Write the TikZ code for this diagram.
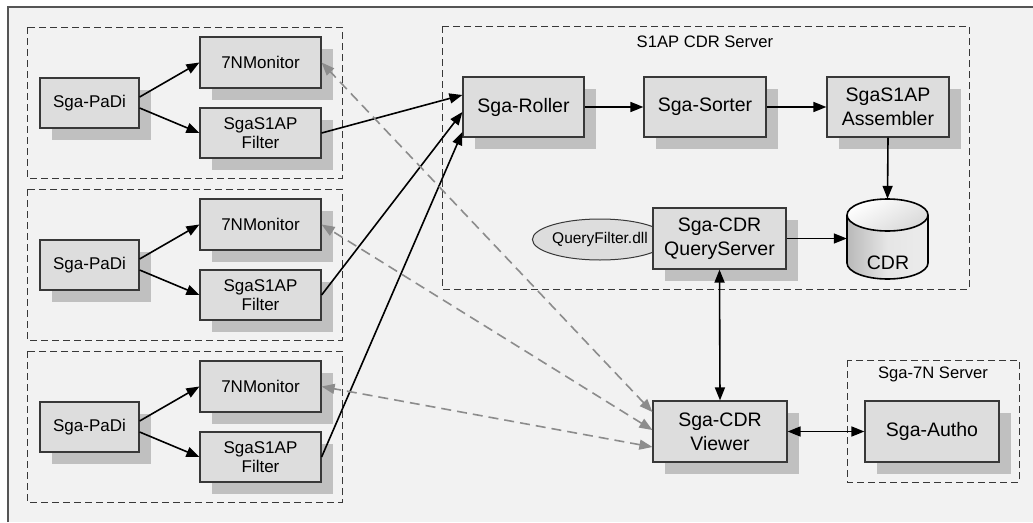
\documentclass[tikz,border=0pt]{standalone}
\usepackage{fontspec}
\setmainfont{Liberation Sans}
\usetikzlibrary{arrows.meta,shadows,shapes.geometric}
\definecolor{bgc}{HTML}{F2F2F2}
\definecolor{boxfill}{HTML}{DDDDDD}
\definecolor{shadowc}{HTML}{C0C0C0}
\definecolor{edgec}{HTML}{383838}
\definecolor{framec}{HTML}{555555}
\definecolor{dgray}{HTML}{8C8C8C}
\begin{document}
\begin{tikzpicture}[x=1pt,y=-1pt,
  box/.style={draw=edgec, line width=1.2pt, fill=boxfill, inner sep=0pt, align=center,
    drop shadow={shadow xshift=12pt, shadow yshift=-12pt, fill=shadowc, opacity=1}},
  smallbox/.style={box, font=\fontsize{17}{19}\selectfont, minimum width=121pt, minimum height=51pt},
  bigbox/.style={box, font=\fontsize{19.5}{24}\selectfont},
  grp/.style={draw=edgec, line width=1pt, dash pattern=on 7pt off 4pt},
  conn/.style={draw=black, line width=1.6pt, -{Triangle[length=13pt,width=10pt]}},
  bconn/.style={draw=black, line width=1.6pt, {Triangle[length=13pt,width=10pt]}-{Triangle[length=13pt,width=10pt]}},
  dconn/.style={draw=dgray, line width=1.6pt, dash pattern=on 10pt off 6pt,
    {Triangle[length=13pt,width=10pt]}-{Triangle[length=13pt,width=10pt]}},
  ttl/.style={font=\fontsize{16.6}{18}\selectfont, inner sep=0pt}
]
\useasboundingbox (0,0) rectangle (1033,522);
\fill[white] (0,0) rectangle (1033,522);
\fill[bgc] (8,7) rectangle (1033,522);
\draw[framec, line width=1.5pt] (8,522) -- (8,7) -- (1033,7);

% containers
\draw[grp] (442,26) rectangle (969,289);
\draw[grp] (847,360) rectangle (1019,482);
\foreach \dy in {0,162,324} {
  \draw[grp] (27,27+\dy) rectangle (342,178+\dy);
}
\node[ttl] (t1) at (705,42) {S1AP CDR Server};
\node[ttl] (t2) at (933,374) {Sga-7N Server};

% left groups
\foreach \k/\dy in {1/0,2/162,3/324} {
  \node[smallbox, minimum width=99pt, minimum height=50pt] (padi\k) at (89.5,103+\dy) {Sga-PaDi};
  \node[smallbox] (mon\k) at (260.5,62.5+\dy) {7NMonitor};
  \node[smallbox, minimum height=50pt] (filt\k) at (260.5,133+\dy) {SgaS1AP\\Filter};
  \draw[conn] ([yshift=6pt]padi\k.east) -- (mon\k.west);
  \draw[conn] ([yshift=-5pt]padi\k.east) -- (filt\k.west);
}

% server nodes
\node[bigbox, minimum width=121pt, minimum height=60pt] (roller) at (523.5,107) {Sga-Roller};
\node[bigbox, minimum width=122pt, minimum height=60pt] (sorter) at (705,107) {Sga-Sorter};
\node[bigbox, minimum width=122pt, minimum height=60pt] (asm) at (888,107) {SgaS1AP\\Assembler};
\node[draw=edgec, line width=1pt, fill=boxfill, ellipse, minimum width=114pt, minimum height=41pt, inner sep=0pt,
  font=\fontsize{15.5}{17}\selectfont] (qf) at (600,239.5) {QueryFilter.dll};
\node[bigbox, minimum width=133pt, minimum height=61pt] (qs) at (719.5,238.5) {Sga-CDR\\QueryServer};
\node[bigbox, minimum width=134pt, minimum height=61pt] (viewer) at (720,431.5) {Sga-CDR\\Viewer};
\node[bigbox, minimum width=134pt, minimum height=61pt] (autho) at (932,431.5) {Sga-Autho};

% cylinder
\shade[left color=gray!55, right color=gray!15, middle color=gray!20]
  (847,215) -- (847,263) arc[start angle=180, end angle=360, x radius=40.5pt, y radius=16pt] -- (928,215) -- cycle;
\shade[top color=white, bottom color=gray!30, shading angle=30]
  (887.5,215) ellipse [x radius=40.5pt, y radius=16pt];
\draw[black, line width=1.6pt]
  (847,215) -- (847,263) arc[start angle=180, end angle=360, x radius=40.5pt, y radius=16pt] -- (928,215);
\draw[black, line width=1.6pt] (887.5,215) ellipse [x radius=40.5pt, y radius=16pt];
\node[inner sep=0pt, minimum width=81pt, minimum height=80pt] (cdr) at (887.5,239) {};
\node[font=\fontsize{19.5}{22}\selectfont, inner sep=0pt] (cdrtxt) at (888,263) {CDR};

% connectors
\draw[conn] (filt1.east) -- ([yshift=12pt]roller.west);
\draw[conn] (filt2.east) -- ([yshift=-5pt]roller.west);
\draw[conn] (filt3.east) -- ([yshift=-25pt]roller.west);
\draw[conn] (roller.east) -- (sorter.west);
\draw[conn] (sorter.east) -- (asm.west);
\draw[conn] (asm.south) -- (cdr.north);
\draw[conn] (qs.east) -- (qs.east -| cdr.west);
\draw[bconn] (qs.south) -- (viewer.north);
\draw[bconn] (viewer.east) -- (autho.west);
\draw[dconn] ([yshift=19.5pt]viewer.west) -- (mon1.east);
\draw[dconn] ([yshift=1.5pt]viewer.west) -- (mon2.east);
\draw[dconn] ([yshift=-15.5pt]viewer.west) -- (mon3.east);
\end{tikzpicture}
\end{document}
